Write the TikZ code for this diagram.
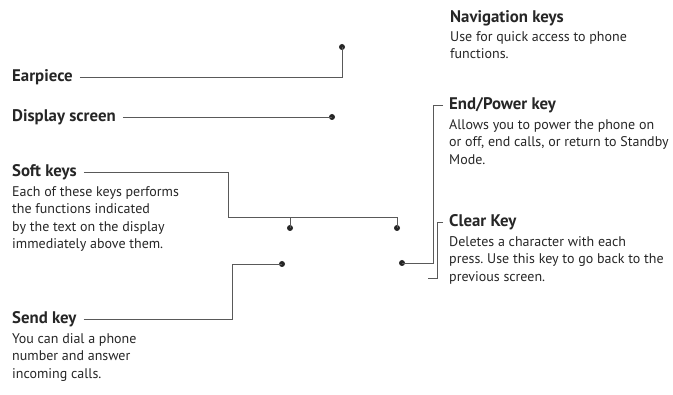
\documentclass[tikz,border=0pt]{standalone}
\usepackage{fontspec}
\setmainfont{PT Sans}
\usetikzlibrary{positioning}

\tikzset{
  heading/.style={font=\fontsize{16.8}{17}\selectfont\bfseries, inner sep=0pt, anchor=west, text=black!85},
  desc/.style={font=\fontsize{14}{17.5}\selectfont\frenchspacing, inner sep=0pt, align=left, text=black!85, anchor=north west},
  lead/.style={draw=black!65, line width=0.9pt, shorten <=7pt},
  keydot/.style={circle, fill=black!85, inner sep=0pt, minimum size=6pt},
}

\begin{document}
\begin{tikzpicture}[x=1pt,y=-1pt]
\useasboundingbox (0,0) rectangle (673,395);

% labels on the left
\node[heading] (earpiece) at (12,77) {Earpiece};
\node[heading] (display) at (12,117) {Display screen};
\node[heading] (softkeys) at (12,172) {Soft keys};
\node[desc, below=6pt of softkeys.south west, anchor=north west] (softdesc)
  {Each of these keys performs\\the functions indicated\\by the text on the display\\immediately above them.};
\node[heading] (sendkey) at (12,319) {Send key};
\node[desc, below=6pt of sendkey.south west, anchor=north west] (senddesc)
  {You can dial a phone\\number and answer\\incoming calls.};

% labels on the right
\node[heading] (navkeys) at (450,18) {Navigation keys};
\node[desc, below=5pt of navkeys.south west, anchor=north west] (navdesc)
  {Use for quick access to phone\\functions.};
\node[heading] (endkey) at (449,105) {End/Power key};
\node[desc, below=6pt of endkey.south west, anchor=north west] (enddesc)
  {Allows you to power the phone on\\or off, end calls, or return to Standby\\Mode.};
\node[heading] (clearkey) at (449,222) {Clear Key};
\node[desc, below=6pt of clearkey.south west, anchor=north west] (cleardesc)
  {Deletes a character with each\\press. Use this key to go back to the\\previous screen.};

% key points
\node[keydot] (eardot) at (342,47) {};
\node[keydot] (dispdot) at (332,117) {};
\node[keydot] (softdotL) at (290,228) {};
\node[keydot] (softdotR) at (397,228) {};
\node[keydot] (senddot) at (282,264) {};
\node[keydot] (enddot) at (402,263) {};

\coordinate (softbend) at (228,217);
\coordinate (sendbend) at (232,264);
\coordinate (endbend) at (433,105);
\coordinate (clearbend) at (437,222);
\coordinate (clearend) at (428,278);

% leader lines
\draw[lead] (earpiece.east) -| (eardot.center);
\draw[lead] (display.east) -- (dispdot.center);
\draw[lead] (softkeys.east) -| (softbend) -| (softdotR.center);
\draw[lead, shorten <=0pt] (softdotL.center) -- (softdotL |- softbend);
\draw[lead] (sendkey.east) -| (sendbend) -- (senddot.center);
\draw[lead, shorten <=6pt] (endkey.west) -- (endbend) |- (enddot.center);
\draw[lead, shorten <=6pt] (clearkey.west) -- (clearbend) |- (clearend);
\end{tikzpicture}
\end{document}
